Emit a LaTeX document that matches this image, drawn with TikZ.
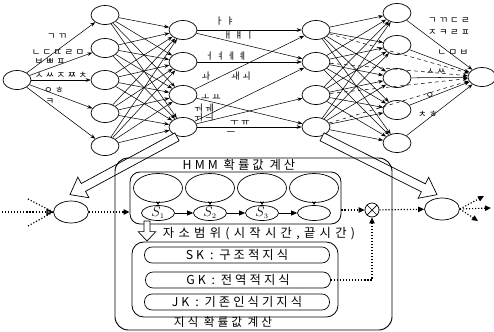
\documentclass[tikz,border=0pt]{standalone}
\usepackage{fontspec}
\setmainfont{Noto Sans CJK KR}
\newfontfamily\krsp[LetterSpace=25]{Noto Sans CJK KR}
\newfontfamily\krwide[LetterSpace=35]{Noto Sans CJK KR}
\newfontfamily\jamofont[LetterSpace=25]{Noto Sans CJK KR}
\usetikzlibrary{arrows.meta,calc,shapes.geometric}
\tikzset{
  unit/.style={
    ellipse, draw, line width=0.6pt,
    minimum width=0.84cm, minimum height=0.57cm, inner sep=0pt
  },
  bigunit/.style={unit, minimum width=1.05cm, minimum height=0.66cm},
  link/.style={-{Stealth[length=1.5mm,width=1.1mm]}, line width=0.45pt},
  jamo/.style={font=\jamofont\fontsize{8}{9}\selectfont, inner sep=0pt},
  panel/.style={draw, line width=0.8pt},
  loopring/.style={
    ellipse, draw, line width=0.6pt,
    minimum width=1.47cm, minimum height=0.87cm, inner sep=0pt
  },
  state/.style={
    ellipse, draw, line width=0.6pt,
    minimum width=0.99cm, minimum height=0.45cm, inner sep=0pt
  },
  tarrow/.style={-{Triangle[length=1.8mm,width=1.5mm]}, line width=0.6pt},
  kitem/.style={
    draw, line width=0.6pt, rounded corners=0.23cm,
    minimum width=5.55cm, minimum height=0.48cm, inner sep=0pt,
    font=\krsp\fontsize{10.5}{11}\selectfont
  },
  dots/.style={line width=1pt, dash pattern=on 1pt off 1.6pt},
  dotarrow/.style={dots, -{Triangle[length=1.8mm,width=1.6mm]}},
  hollow/.style={draw, fill=white, line width=0.6pt, line join=miter}
}
% from, to, shaft half width, head half width, head length
\newcommand\hollowarrow[5]{%
  \coordinate (hw-b) at ($(#2)!#5!(#1)$);
  \draw[hollow] ($(#1)!#3!90:(#2)$) -- ($(hw-b)!#3!-90:(#1)$)
    -- ($(hw-b)!#4!-90:(#1)$) -- (#2) -- ($(hw-b)!#4!90:(#1)$)
    -- ($(hw-b)!#3!90:(#1)$) -- ($(#1)!#3!-90:(#2)$) -- cycle;}

\begin{document}
\begin{tikzpicture}[x=0.03cm,y=-0.03cm]
  \useasboundingbox (0,0) rectangle (494,332);
  % network
  \node[unit] (n0) at (17,80) {};
  \foreach \i/\y in {1/15,2/48,3/80,4/113,5/146}
    \node[unit] (a\i) at (105,\y) {};
  \foreach \i/\y in {1/30,2/62,3/95,4/127}
    \node[unit] (b\i) at (183,\y) {};
  \foreach \i/\y in {1/30,2/62,3/95,4/127}
    \node[unit] (c\i) at (316,\y) {};
  \foreach \i/\y in {1/13,2/45,3/78,4/110,5/143}
    \node[unit] (d\i) at (397,\y) {};
  \node[unit] (nR) at (482,77) {};

  \foreach \i in {1,...,5} \draw[link] (n0) -- (a\i);
  \foreach \i in {1,...,5}
    \foreach \j in {1,...,4} \draw[link] (a\i) -- (b\j);
  \foreach \i/\j in {1/1,1/2,2/2,3/1,3/4,4/2,4/3,4/4}
    \draw[link] (b\i) -- (c\j);
  \foreach \i in {1,...,4}
    \foreach \j in {1,...,5} \draw[link] (c\i) -- (d\j);
  \foreach \i in {1,...,5} \draw[link] (d\i) -- (nR);
  \foreach \i in {1,...,4} \draw[link,dashed] (c\i) -- (nR);

  % consonant / vowel labels
  \node[jamo] (t1) at (57,37) {ㄱㄲ};
  \node[jamo] (t2) at (58,53) {ㄴㄷㄸㄹㅁ};
  \node[jamo] (t3) at (50,62) {ㅂㅃㅍ};
  \node[jamo] (t4) at (61,75) {ㅅㅆㅈㅉㅊ};
  \node[jamo] (t5) at (54,90) {ㅇㅎ};
  \node[jamo] (t6) at (50,102) {ㅋ};
  \node[jamo] (v1) at (225,21) {ㅏㅑ};
  \node[jamo] (v2) at (239,35) {ㅐㅒㅣ};
  \node[jamo] (v3) at (226,56) {ㅓㅕㅔㅖ};
  \node[jamo] (v4) at (206,76) {ㅘ};
  \node[jamo] (v5) at (241,76) {ㅙㅚ};
  \node[jamo] (v6) at (211,97) {ㅗㅛ};
  \node[jamo] (v7) at (204,108) {ㅝㅞ};
  \node[jamo] (v8) at (204,117) {ㅟㅢ};
  \node[jamo] (v9) at (240,123) {ㅜㅠ};
  \node[jamo] (v10) at (231,134) {ㅡ};
  \node[jamo] (f1) at (449,21) {ㄱㄲㄷㄹ};
  \node[jamo] (f2) at (449,33) {ㅈㅋㄹㅍ};
  \node[jamo] (f3) at (453,53) {ㄴㅁㅂ};
  \node[jamo] (f4) at (436,72) {ㅅㅆ};
  \node[jamo] (f5) at (430,96) {ㅇ};
  \node[jamo] (f6) at (428,114) {ㅊㅎ};

  % lower part
  \node[bigunit] (inL) at (71,212) {};
  \node[bigunit] (outR) at (442,209) {};
  \node[draw, circle, line width=0.6pt, minimum size=0.42cm, inner sep=0pt] (mul) at (372,210) {};
  \draw[line width=0.6pt] (mul.north west) -- (mul.south east)
    (mul.north east) -- (mul.south west);

  \coordinate (hl0) at ($(b4.south)+(-6,0)$);
  \coordinate (hl1) at ($(inL.north)+(-1,-6)$);
  \coordinate (hr0) at ($(c4.south)+(6,0)$);
  \coordinate (hr1) at ($(outR.north)+(-5,-3)$);
  \hollowarrow{hl0}{hl1}{3.8pt}{10pt}{13pt}
  \hollowarrow{hr0}{hr1}{3.8pt}{10pt}{13pt}

  \node[panel, rounded corners=0.4cm, minimum width=8.31cm, minimum height=5.16cm] (outer) at (253.5,244) {};
  \node[font=\krsp\fontsize{10.5}{11}\selectfont, inner sep=1pt] (hmmlbl) at (239,165) {HMM 확률값 계산};
  \node[panel, line width=0.7pt, rounded corners=0.3cm, minimum width=6.33cm, minimum height=1.56cm] (hmm) at (235.5,198) {};
  \foreach \i/\x in {1/158,2/210,3/262,4/314} {
    \node[loopring] (L\i) at (\x,188) {};
    \node[state] (s\i) at (\x,213) {};
    \draw[-{Stealth[length=1.2mm,width=1mm]}, line width=0.5pt] (L\i.south) -- (s\i.north);
  }
  \node[font=\large] (s1t) at (s1) {$S_{\scriptscriptstyle 1}$};
  \node[font=\large] (s2t) at (s2) {$S_{\scriptscriptstyle 2}$};
  \node[font=\large] (s3t) at (s3) {$S_{\scriptscriptstyle 3}$};
  \foreach \i/\j in {1/2,2/3,3/4} \draw[tarrow] (s\i) -- (s\j);

  \coordinate (fi1) at (28,199);
  \coordinate (fi2) at (2,212);
  \coordinate (fi3) at (28,226);
  \draw[dots] (fi1) -- (inL.west);
  \draw[dots] (fi3) -- (inL.west);
  \draw[dots, -{Triangle[length=2mm,width=2mm,fill=gray]}] (fi2) -- (inL);
  \draw[dotarrow] (inL) -- (inL -| hmm.west);
  \draw[dotarrow] (hmm.east |- mul) -- (mul);
  \draw[dotarrow] (mul) -- (outR);
  \coordinate (fo1) at (484,196);
  \coordinate (fo2) at (491,208);
  \coordinate (fo3) at (478,221);
  \foreach \k in {1,2,3} \draw[dotarrow] (outR.east) -- (fo\k);

  \coordinate (dn0) at (147,221);
  \coordinate (dn1) at (147,241);
  \hollowarrow{dn0}{dn1}{2.6pt}{7.5pt}{8pt}
  \node[font=\krwide\fontsize{10.5}{11}\selectfont] (range) at (259,234) {자소범위(시작시간,끝시간)};

  \node[panel, line width=0.7pt, rounded corners=0.35cm, minimum width=6.18cm, minimum height=2.25cm] (kbox) at (235,279.5) {};
  \node[kitem] (sk) at (237,255) {SK : 구조적지식};
  \node[kitem] (gk) at (238,280) {GK : 전역적지식};
  \node[kitem] (jk) at (237,302) {JK : 기존인식기지식};
  \node[font=\krsp\fontsize{10}{11}\selectfont] (kcalc) at (223,322) {지식 확률값 계산};
  \draw[dotarrow] (gk.east) -| (mul.south);
\end{tikzpicture}
\end{document}
